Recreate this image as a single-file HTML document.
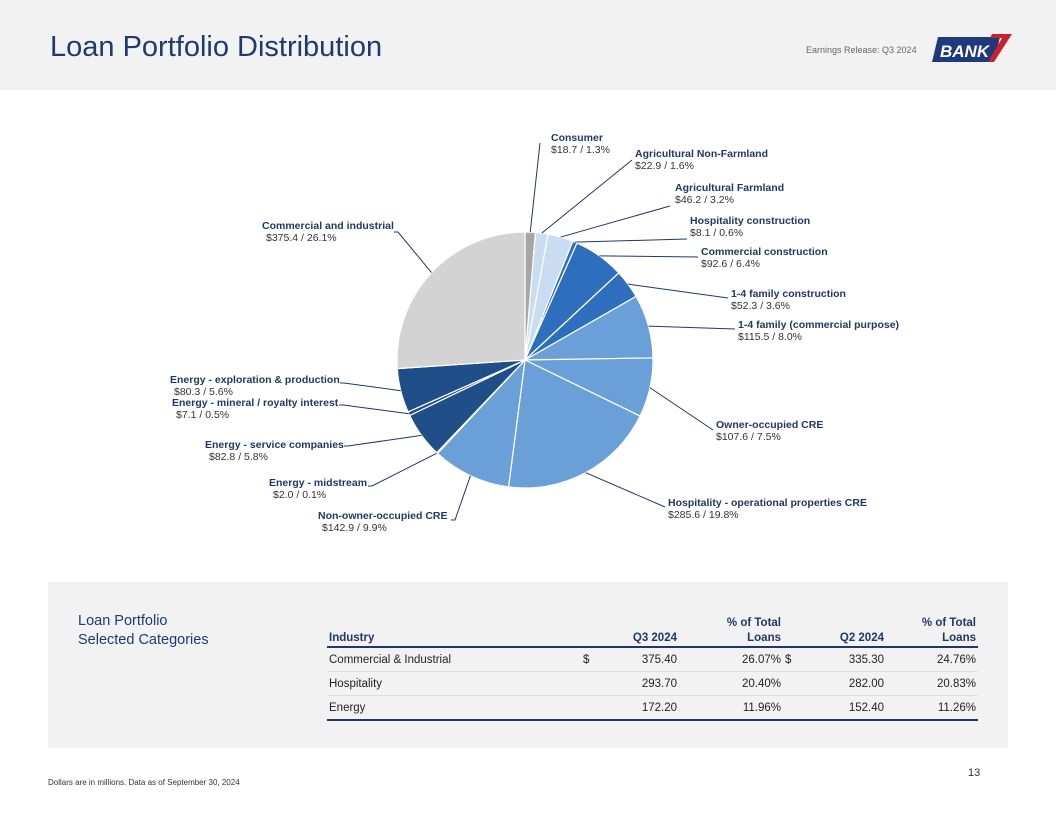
<!DOCTYPE html>
<html><head><meta charset="utf-8"><style>
body{margin:0;width:1056px;height:816px;background:#fff;font-family:"Liberation Sans",sans-serif;position:relative;overflow:hidden}
.hdr{position:absolute;left:0;top:0;width:1056px;height:90px;background:#f2f2f2}
.title{position:absolute;left:50px;top:31px;font-size:29px;color:#1f3a6e}
.er{position:absolute;left:806px;top:45px;font-size:9px;color:#666}
.panel{position:absolute;left:48px;top:582px;width:960px;height:166px;background:#f2f2f2}
.ptitle{position:absolute;left:78px;top:612px;font-size:14.5px;color:#1f3a6e;line-height:19px}
table{position:absolute;left:327px;top:614px;width:651px;border-collapse:collapse;font-size:11.5px;color:#222}
td,th{padding:0 2px;height:23px}
th{font-weight:bold;color:#1f3864;vertical-align:bottom;height:32px;border-bottom:2px solid #1f3864;line-height:15px}
tr.r td{border-bottom:1px solid #ddd}
tr.last td{border-bottom:2px solid #1f3864}
.n{text-align:right}
.foot{position:absolute;left:48px;top:778px;font-size:8px;color:#333}
.pg{position:absolute;left:968px;top:767px;font-size:11px;color:#333}
</style></head><body>
<div class="hdr"></div>
<div class="title">Loan Portfolio Distribution</div>
<div class="er">Earnings Release: Q3 2024</div>
<svg style="position:absolute;left:932px;top:32px" width="82" height="34">
<polygon points="6,5 68,5 62,30 0,30" fill="#1f3a7a"/>
<text x="8" y="25" font-size="17" font-weight="bold" font-style="italic" fill="#fff" font-family="Liberation Sans">BANK</text>
<polygon points="60,2 80,2 62,30 56,30 70,6 58,6" fill="#c8202f"/>
</svg>
<svg id="pie" style="position:absolute;left:0;top:0" width="1056" height="580"></svg>
<div class="panel"></div>
<div class="ptitle">Loan Portfolio<br>Selected Categories</div>
<table>
<tr><th style="text-align:left;width:250px">Industry</th><th style="width:20px"></th><th class="n" style="width:70px">Q3 2024</th><th class="n" style="width:100px">% of Total<br>Loans</th><th style="width:20px"></th><th class="n" style="width:75px">Q2 2024</th><th class="n">% of Total<br>Loans</th></tr>
<tr class="r"><td>Commercial &amp; Industrial</td><td>$</td><td class="n">375.40</td><td class="n">26.07%</td><td>$</td><td class="n">335.30</td><td class="n">24.76%</td></tr>
<tr class="r"><td>Hospitality</td><td></td><td class="n">293.70</td><td class="n">20.40%</td><td></td><td class="n">282.00</td><td class="n">20.83%</td></tr>
<tr class="last"><td>Energy</td><td></td><td class="n">172.20</td><td class="n">11.96%</td><td></td><td class="n">152.40</td><td class="n">11.26%</td></tr>
</table>
<div class="foot">Dollars are in millions. Data as of September 30, 2024</div>
<div class="pg">13</div>
<script>
const categories=["Consumer","Agricultural Non-Farmland","Agricultural Farmland","Hospitality construction","Commercial construction","1-4 family construction","1-4 family (commercial purpose)","Owner-occupied CRE","Hospitality - operational properties CRE","Non-owner-occupied CRE","Energy - midstream","Energy - service companies","Energy - mineral / royalty interest","Energy - exploration & production","Commercial and industrial"];
const amounts=[18.7,22.9,46.2,8.1,92.6,52.3,115.5,107.6,285.6,142.9,2.0,82.8,7.1,80.3,375.4];
const pctLabels=["1.3%","1.6%","3.2%","0.6%","6.4%","3.6%","8.0%","7.5%","19.8%","9.9%","0.1%","5.8%","0.5%","5.6%","26.1%"];
const colors=["#a6a6a6","#c9dcf2","#c9dcf2","#2e6fbd","#2e6fbd","#2e6fbd","#6a9fd8","#6a9fd8","#6a9fd8","#6a9fd8","#1f4e89","#1f4e89","#1f4e89","#1f4e89","#d3d3d3"];
const labelPos=[[551,141,540,143,0],[635,157,632,160,0],[675,191,670,206,0],[690,224,687,239,0],[701,255,698,257,0],[731,297,728,298,0],[738,328,735,329,0],[716,428,713,430,0],[668,506,665,507,0],[318,519,455,520,1],[269,486,372,486,1],[205,448,348,446,1],[172,406,343,405,1],[170,383,344,383,1],[262,229,398,232,1]];
const svg=document.getElementById('pie');const NS="http://www.w3.org/2000/svg";
const cx=525,cy=360,R=128;const total=amounts.reduce((a,b)=>a+b,0);
function pt(a,r){return [cx+r*Math.sin(a),cy-r*Math.cos(a)];}
let a0=0;
amounts.forEach((v,i)=>{
 const a1=a0+v/total*2*Math.PI;const p0=pt(a0,R),p1=pt(a1,R);
 const p=document.createElementNS(NS,'path');
 p.setAttribute('d',`M${cx},${cy}L${p0[0]},${p0[1]}A${R},${R} 0 ${a1-a0>Math.PI?1:0} 1 ${p1[0]},${p1[1]}Z`);
 p.setAttribute('fill',colors[i]);p.setAttribute('stroke','#fff');p.setAttribute('stroke-width','1.2');
 
 
 svg.appendChild(p);
 const lp=labelPos[i];const m=pt((a0+a1)/2,R);
 const l=document.createElementNS(NS,'polyline');
 let pts=`${m[0]},${m[1]} ${lp[2]},${lp[3]}`;
 if(lp[4]===1){pts+=` ${lp[2]-4},${lp[3]}`;}
 l.setAttribute('points',pts);l.setAttribute('fill','none');l.setAttribute('stroke','#1f3864');l.setAttribute('stroke-width','1');
 
 
 svg.appendChild(l);
 const t=document.createElementNS(NS,'text');t.setAttribute('x',lp[0]);t.setAttribute('y',lp[1]);
 t.setAttribute('font-size','10.5');t.setAttribute('font-family','Liberation Sans');t.setAttribute('fill','#1f3864');
 
 
 const s1=document.createElementNS(NS,'tspan');s1.setAttribute('font-weight','bold');s1.textContent=categories[i];
 const s2=document.createElementNS(NS,'tspan');s2.setAttribute('x',lp[0]+(lp[4]?4:0));s2.setAttribute('dy','12');s2.setAttribute('fill','#333');
 s2.textContent='$'+amounts[i].toFixed(1)+'  /  '+pctLabels[i];
 t.appendChild(s1);t.appendChild(s2);svg.appendChild(t);
 a0=a1;
});
</script>
</body></html>
